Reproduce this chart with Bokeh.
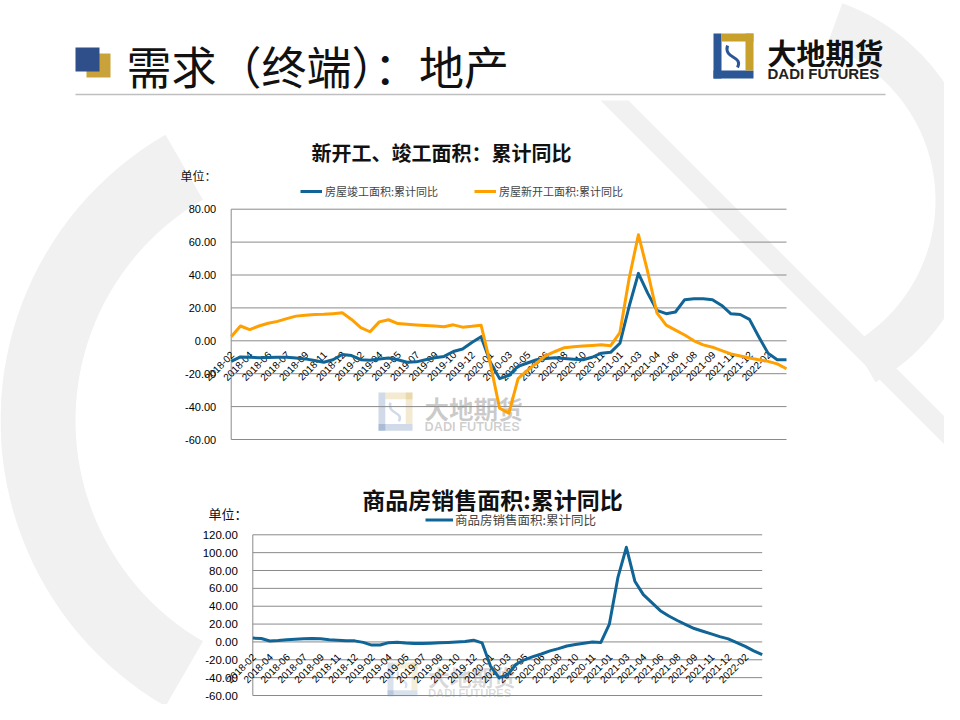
import numpy as np
from bokeh.plotting import figure
from bokeh.models import Range1d, Legend, LegendItem
from bokeh.core.properties import value
from bokeh.embed import file_html
from bokeh.resources import INLINE

# ---------------- data ----------------
tick_labels = ["2018-02", "2018-04", "2018-06", "2018-07", "2018-09", "2018-11", "2018-12",
               "2019-02", "2019-04", "2019-05", "2019-07", "2019-09", "2019-10", "2019-12",
               "2020-01", "2020-03", "2020-05", "2020-06", "2020-08", "2020-10", "2020-11",
               "2021-01", "2021-03", "2021-04", "2021-06", "2021-08", "2021-09", "2021-11",
               "2021-12", "2022-02"]

# 房屋竣工面积:累计同比
completed_yoy = [-12.5, -9.8, -10.0, -10.3, -10.2, -10.0, -10.0, -10.5, -11.0, -12.0,
                 -13.0, -11.5, -8.3, -9.0, -11.5, -11.8, -11.0, -10.5, -11.5, -13.0,
                 -12.8, -11.5, -10.3, -9.5, -6.5, -5.0, -1.0, 2.5, -13.0, -23.0,
                 -21.0, -15.5, -13.5, -11.5, -10.8, -10.3, -10.8, -11.2, -11.5, -10.0,
                 -7.5, -7.0, -1.5, 21.0, 41.0, 29.0, 18.5, 16.5, 17.5, 25.0,
                 25.5, 25.5, 25.0, 21.5, 16.4, 16.0, 13.0, 2.5, -7.5, -11.5,
                 -11.5]

# 房屋新开工面积:累计同比
new_start_yoy = [2.5, 9.0, 6.8, 9.0, 10.7, 11.8, 13.5, 15.0, 15.6, 16.0,
                 16.1, 16.5, 17.0, 13.0, 8.0, 5.5, 11.5, 12.8, 10.5, 10.0,
                 9.6, 9.3, 9.0, 8.6, 9.7, 8.3, 8.8, 9.5, -14.0, -41.0,
                 -44.0, -23.0, -18.0, -13.5, -9.0, -6.5, -4.2, -3.6, -3.2, -2.8,
                 -2.4, -3.0, 5.0, 38.0, 64.5, 42.0, 17.0, 9.5, 6.5, 3.5,
                 0.0, -2.5, -3.9, -6.0, -8.0, -9.2, -10.5, -11.5, -12.5, -14.0,
                 -17.0]

# 商品房销售面积:累计同比
sales_yoy = [4.3, 3.8, 1.0, 1.5, 2.5, 3.0, 3.6, 3.8, 3.5, 2.5,
             1.8, 1.2, 1.2, -0.5, -3.5, -3.5, -0.8, -0.3, -1.2, -1.8,
             -1.8, -1.5, -1.0, -0.5, 0.0, 0.5, 2.0, -1.0, -27.0, -40.0,
             -37.0, -25.0, -20.0, -16.5, -13.5, -10.0, -7.5, -4.5, -2.8, -1.5,
             0.0, -0.5, 20.0, 72.0, 106.0, 68.0, 53.0, 44.0, 35.0, 29.0,
             24.0, 19.5, 15.0, 12.0, 9.0, 6.0, 3.4, -0.8, -5.0, -10.0,
             -14.3]

top_y_ticks = [-60, -40, -20, 0, 20, 40, 60, 80]
bottom_y_ticks = [-60, -40, -20, 0, 20, 40, 60, 80, 100, 120]

# ---------------- page / figure ----------------
W, H = 944, 704
OX, OY = 0, 0

p = figure(width=W, height=H, x_range=Range1d(OX, OX + W), y_range=Range1d(OY + H, OY),
           x_axis_type=None, y_axis_type=None, toolbar_location=None,
           output_backend="svg", min_border=0)
p.grid.visible = False
p.outline_line_color = None
p.background_fill_color = "white"
p.border_fill_color = "white"

CJK = value("Noto Sans CJK SC")
LAT = value("Liberation Sans")

n = len(new_start_yoy)
idx = list(range(n))
tick_idx = idx[::2][:len(tick_labels)]


def chart_ranges(left, right, zero_y, px_per_unit):
    step = (right - left) / (n - 1)
    xr = Range1d((OX - left) / step, (OX + W - left) / step)
    yr = Range1d((zero_y - (OY + H)) / px_per_unit, (zero_y - OY) / px_per_unit)
    return xr, yr


tx, ty = chart_ranges(230.7, 786.0, 340.3, 32.9 / 20)
b_ppu = (695.0 - 534.3) / 180.0
bx, by = chart_ranges(252.3, 761.7, 534.3 + 120 * b_ppu, b_ppu)
p.extra_x_ranges = {"tx": tx, "bx": bx}
p.extra_y_ranges = {"ty": ty, "by": by}

# ---------------- background decoration ----------------
deco = "#f1f1f1"
p.patch([600, 628, 960, 960], [100, 100, 432, 460], color=deco, line_color=None)
th = np.linspace(np.radians(-70), np.radians(60), 50)
cx, cy = 770, 200
xo = list(cx + 210 * np.cos(th)); yo = list(cy + 210 * np.sin(th))
xi = list(cx + 165 * np.cos(th[::-1])); yi = list(cy + 165 * np.sin(th[::-1]))
p.patch(xo + xi, yo + yi, color=deco, line_color=None)
th2 = np.linspace(np.radians(120), np.radians(240), 50)
cx2, cy2 = 330, 420
xo = list(cx2 + 330 * np.cos(th2)); yo = list(cy2 + 330 * np.sin(th2))
xi = list(cx2 + 255 * np.cos(th2[::-1])); yi = list(cy2 + 255 * np.sin(th2[::-1]))
p.patch(xo + xi, yo + yi, color=deco, line_color=None)

# ---------------- header ----------------
p.quad(left=[86], right=[110], top=[53], bottom=[77], color="#c9a33a", line_color=None)
p.quad(left=[75], right=[99], top=[47], bottom=[71], color="#2f4f8a", line_color=None)
p.text(x=[126], y=[65], text=["需求（终端）：地产"], text_font=CJK, text_font_size=value("45px"),
       text_align="left", text_baseline="middle", text_color="#111111")
p.segment(x0=[75], x1=[885], y0=[94], y1=[94], line_color="#bfbfbf", line_width=1.5)


def logo(x0, y0, s, alpha, text=True):
    blue, gold = "#2b5797", "#c8a02c"
    p.quad(left=[x0], right=[x0 + 8 * s], top=[y0], bottom=[y0 + 45 * s], color=blue, line_color=None, alpha=alpha)
    p.quad(left=[x0], right=[x0 + 40 * s], top=[y0 + 37 * s], bottom=[y0 + 45 * s], color=blue, line_color=None, alpha=alpha)
    p.quad(left=[x0 + 8 * s], right=[x0 + 40 * s], top=[y0], bottom=[y0 + 8 * s], color=gold, line_color=None, alpha=alpha)
    p.quad(left=[x0 + 32 * s], right=[x0 + 40 * s], top=[y0], bottom=[y0 + 37 * s], color=gold, line_color=None, alpha=alpha)
    p.bezier(x0=[x0 + 14 * s], y0=[y0 + 12 * s], x1=[x0 + 24 * s], y1=[y0 + 34 * s],
             cx0=[x0 + 10 * s], cy0=[y0 + 26 * s], cx1=[x0 + 30 * s], cy1=[y0 + 22 * s],
             line_color=blue, line_width=3 * s, alpha=alpha)
    if text:
        p.text(x=[x0 + 54 * s], y=[y0 + 18 * s], text=["大地期货"], text_font=CJK, text_font_style="bold",
               text_font_size=value(f"{29 * s:.1f}px"), text_baseline="middle", text_color="#111111", alpha=alpha)
        p.text(x=[x0 + 54 * s], y=[y0 + 40 * s], text=["DADI FUTURES"], text_font=LAT, text_font_style="bold",
               text_font_size=value(f"{15 * s:.1f}px"), text_baseline="middle", text_color="#222222", alpha=alpha)


logo(713, 33, 1.0, 1.0)
logo(378, 392, 0.85, 0.22)
logo(387, 662, 0.75, 0.18)

# ---------------- top chart ----------------
grid_col = "#8a8a8a"
p.segment(x0=[0] * len(top_y_ticks), x1=[n - 1] * len(top_y_ticks), y0=top_y_ticks, y1=top_y_ticks,
          x_range_name="tx", y_range_name="ty", line_color=grid_col, line_width=1)
p.segment(x0=[0], x1=[0], y0=[min(top_y_ticks)], y1=[max(top_y_ticks)],
          x_range_name="tx", y_range_name="ty", line_color=grid_col, line_width=1)
p.text(x=[0] * len(top_y_ticks), y=top_y_ticks, text=[f"{v:.2f}" for v in top_y_ticks],
       x_range_name="tx", y_range_name="ty", x_offset=-15, text_align="right", text_baseline="middle",
       text_font=LAT, text_font_size=value("11px"), text_color="#000000")
p.text(x=tick_idx, y=[0] * len(tick_idx), text=tick_labels, x_range_name="tx", y_range_name="ty",
       angle=np.pi / 4, text_align="right", text_baseline="middle", x_offset=1, y_offset=12,
       text_font=LAT, text_font_size=value("10px"), text_color="#000000")
r_comp = p.line(idx, completed_yoy, x_range_name="tx", y_range_name="ty", line_color="#106496",
                line_width=3, line_join="round")
r_new = p.line(idx, new_start_yoy, x_range_name="tx", y_range_name="ty", line_color="#ffa000",
               line_width=3, line_join="round")

p.text(x=[441], y=[152], text=["新开工、竣工面积：累计同比"], text_font=CJK, text_font_style="bold",
       text_font_size=value("20px"), text_align="center", text_baseline="middle", text_color="#111111")
p.text(x=[180], y=[175], text=["单位："], text_font=CJK, text_font_size=value("12px"),
       text_align="left", text_baseline="middle", text_color="#111111")

leg1 = Legend(items=[LegendItem(label="房屋竣工面积:累计同比", renderers=[r_comp]),
                     LegendItem(label="房屋新开工面积:累计同比", renderers=[r_new])],
              location=(300 - OX, OY + H - 198.5), orientation="horizontal",
              label_text_font="Noto Sans CJK SC", label_text_font_size="11px",
              glyph_width=22, glyph_height=12, label_height=12, label_standoff=3, spacing=36,
              padding=0, margin=0, border_line_alpha=0, background_fill_alpha=0)
p.add_layout(leg1)

# ---------------- bottom chart ----------------
p.segment(x0=[0] * len(bottom_y_ticks), x1=[n - 1] * len(bottom_y_ticks), y0=bottom_y_ticks, y1=bottom_y_ticks,
          x_range_name="bx", y_range_name="by", line_color=grid_col, line_width=1)
p.segment(x0=[0], x1=[0], y0=[min(bottom_y_ticks)], y1=[max(bottom_y_ticks)],
          x_range_name="bx", y_range_name="by", line_color=grid_col, line_width=1)
p.text(x=[0] * len(bottom_y_ticks), y=bottom_y_ticks, text=[f"{v:.2f}" for v in bottom_y_ticks],
       x_range_name="bx", y_range_name="by", x_offset=-15, text_align="right", text_baseline="middle",
       text_font=LAT, text_font_size=value("11.5px"), text_color="#000000")
p.text(x=tick_idx, y=[0] * len(tick_idx), text=tick_labels, x_range_name="bx", y_range_name="by",
       angle=np.pi / 4, text_align="right", text_baseline="middle", x_offset=1, y_offset=13,
       text_font=LAT, text_font_size=value("10px"), text_color="#000000")
r_sales = p.line(idx, sales_yoy, x_range_name="bx", y_range_name="by", line_color="#106496",
                 line_width=3, line_join="round")

p.text(x=[492], y=[498], text=["商品房销售面积:累计同比"], text_font=CJK, text_font_style="bold",
       text_font_size=value("23px"), text_align="center", text_baseline="middle", text_color="#111111")
p.text(x=[208], y=[513], text=["单位："], text_font=CJK, text_font_size=value("13px"),
       text_align="left", text_baseline="middle", text_color="#111111")

leg2 = Legend(items=[LegendItem(label="商品房销售面积:累计同比", renderers=[r_sales])],
              location=(425 - OX, OY + H - 529), orientation="horizontal",
              label_text_font="Noto Sans CJK SC", label_text_font_size="12.5px",
              glyph_width=28, glyph_height=13, label_height=13, label_standoff=2, spacing=0,
              padding=0, margin=0, border_line_alpha=0, background_fill_alpha=0)
p.add_layout(leg2)

open("out.html", "w").write(file_html(p, INLINE))
